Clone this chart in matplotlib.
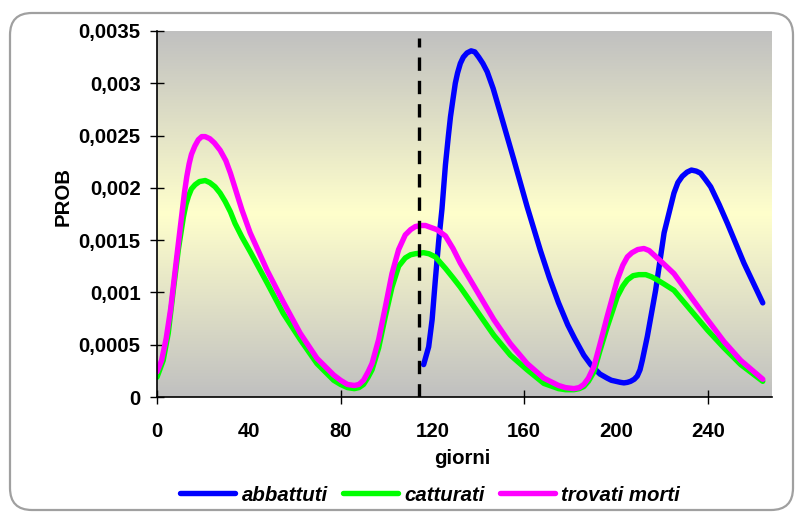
import numpy as np
import matplotlib
matplotlib.use("Agg")
import matplotlib.pyplot as plt
from matplotlib.patches import FancyBboxPatch
from matplotlib.transforms import IdentityTransform

plt.rcParams['font.family'] = ['Liberation Sans', 'DejaVu Sans']
plt.rcParams['font.weight'] = 'bold'

# abbattuti
giorni_abb = [116.2, 118.4, 119.9, 121.3, 122.8, 124.2, 125.7, 127, 127.9, 129,
              130, 131, 132.2, 133.5, 135.1, 136.9, 138.5, 140.2, 142, 143.9,
              146.5, 149.7, 155.5, 161.3, 167.1, 171, 175, 179, 182, 186,
              189, 193, 196.2, 198, 200, 202, 203.5, 205, 206.4, 208,
              209.3, 210.5, 211.5, 213.7, 217.3, 221, 225.3, 227, 228.9, 231,
              232.9, 235, 236.9, 239, 241.3, 245, 248.6, 255.8, 264]
prob_abb = [0.00031, 0.00048, 0.00074, 0.00112, 0.00150, 0.00180, 0.00222, 0.00250, 0.00268, 0.00285,
            0.00300, 0.00310, 0.00319, 0.00325, 0.00329, 0.00331, 0.00330, 0.00325, 0.00319, 0.00311,
            0.00295, 0.00271, 0.00227, 0.00182, 0.00140, 0.00114, 0.00090, 0.00069, 0.00056, 0.00040,
            0.00031, 0.00022, 0.00018, 0.00016, 0.00015, 0.00014, 0.000135, 0.00014, 0.00015, 0.00017,
            0.00020, 0.00026, 0.00035, 0.00058, 0.00102, 0.00157, 0.00195, 0.00205, 0.00211, 0.00215,
            0.00217, 0.00216, 0.00214, 0.00208, 0.00201, 0.00184, 0.00166, 0.00128, 0.00090]

# catturati
giorni_catt = [0, 2.7, 4.9, 7.1, 9.3, 11.5, 12.6, 13.7, 15, 16.6,
               18.5, 21, 23, 25.3, 27.5, 29.7, 32, 34, 37, 40.6,
               48, 55, 62.4, 69.7, 77, 80, 83, 86, 88, 90,
               92, 93.7, 96.6, 99.5, 102.4, 105.3, 108.2, 110.5, 112.6, 116.2,
               118.5, 121.3, 125.7, 129, 132.2, 139.5, 146.8, 154, 161.3, 168.6,
               175, 178, 181.7, 184, 186, 188, 190.4, 193, 196.2, 200.6,
               203, 205, 207.5, 210, 213, 215.5, 218, 221, 225.3, 232.6,
               239.9, 247.1, 254.4, 264]
prob_catt = [0.00019, 0.00035, 0.00061, 0.00102, 0.00141, 0.00172, 0.00184, 0.00192, 0.00199, 0.00203,
             0.00206, 0.00207, 0.00205, 0.00201, 0.00195, 0.00187, 0.00177, 0.00166, 0.00153, 0.00139,
             0.00109, 0.00080, 0.00055, 0.00032, 0.00016, 0.00012, 0.00009, 0.00008, 0.00009, 0.00012,
             0.00019, 0.00026, 0.00047, 0.00077, 0.00105, 0.00125, 0.00133, 0.00136, 0.00137, 0.00138,
             0.00137, 0.00134, 0.00123, 0.00114, 0.00105, 0.00082, 0.00059, 0.00040, 0.00026, 0.00013,
             0.00008, 0.00007, 0.00007, 0.00008, 0.00010, 0.00015, 0.00024, 0.00044, 0.00067, 0.00096,
             0.00106, 0.00112, 0.00116, 0.00117, 0.00117, 0.00115, 0.00112, 0.00108, 0.00102, 0.00083,
             0.00064, 0.00047, 0.00031, 0.00015]

# trovati morti
giorni_morti = [0, 2, 4, 6, 8.5, 11, 12, 13, 14, 15,
                16.5, 18, 19.5, 21, 23, 25, 27.5, 30, 32, 34,
                37, 40.6, 48, 55, 62.4, 69.7, 77, 80, 83, 86,
                88, 90, 92, 93.7, 96.6, 99.5, 102.4, 105.3, 108.2, 110.5,
                112.6, 115, 117, 119.5, 122, 125.7, 129, 132.2, 139.5, 146.8,
                154, 161.3, 168.6, 175, 178, 181.7, 184, 186, 188, 190.4,
                193, 196.2, 200.6, 203, 205, 207, 209.5, 212.2, 214.5, 216.5,
                220, 225.3, 232.6, 239.9, 247.1, 254.4, 264]
prob_morti = [0.00024, 0.00035, 0.00056, 0.00085, 0.00132, 0.00178, 0.00196, 0.00211, 0.00223, 0.00232,
              0.00240, 0.00246, 0.00249, 0.00249, 0.00247, 0.00243, 0.00236, 0.00226, 0.00214, 0.00200,
              0.00179, 0.00157, 0.00121, 0.00091, 0.00061, 0.00037, 0.00021, 0.00016, 0.00012, 0.00011,
              0.00012, 0.00016, 0.00024, 0.00032, 0.00055, 0.00086, 0.00118, 0.00141, 0.00155, 0.00160,
              0.00163, 0.00164, 0.00164, 0.00162, 0.00160, 0.00154, 0.00142, 0.00128, 0.00101, 0.00074,
              0.00051, 0.00032, 0.00018, 0.00011, 0.00009, 0.00008, 0.00009, 0.00012, 0.00018, 0.00029,
              0.00050, 0.00077, 0.00112, 0.00126, 0.00134, 0.00138, 0.00141, 0.00142, 0.00140, 0.00136,
              0.00129, 0.00118, 0.00096, 0.00074, 0.00053, 0.00035, 0.00017]

giorno_soglia = 114
x_ticks = [0, 40, 80, 120, 160, 200, 240]
y_ticks = [0, 0.0005, 0.001, 0.0015, 0.002, 0.0025, 0.003, 0.0035]
y_labels = ['0', '0,0005', '0,001', '0,0015', '0,002', '0,0025', '0,003', '0,0035']

fs = 14.7

fig = plt.figure(figsize=(7.95, 5.12), dpi=100)
fig.patch.set_facecolor('white')

# cornice arrotondata attorno al grafico
bordo = FancyBboxPatch((10, 2), 783, 497, boxstyle="round,pad=0,rounding_size=22",
                       transform=IdentityTransform(), facecolor='none',
                       edgecolor='#a0a0a0', linewidth=1.6)
fig.add_artist(bordo)

ax = fig.add_axes([0.1975, 0.2246, 0.7735, 0.7149])

# sfondo sfumato grigio - giallo - grigio
grigio = np.array([192, 192, 192]) / 255
giallo = np.array([255, 255, 204]) / 255
t = np.abs(np.linspace(-1, 1, 256))[:, None]
sfondo = (t * grigio + (1 - t) * giallo)[:, None, :]
ax.imshow(sfondo, extent=[0, 1, 0, 1], transform=ax.transAxes, aspect='auto', zorder=0)

stile = dict(lw=3.9, zorder=3, solid_capstyle='round', solid_joinstyle='round')
ax.plot(giorni_abb, prob_abb, color='#0000ff', label='abbattuti', **stile)
ax.plot(giorni_catt, prob_catt, color='#00ff00', label='catturati', **stile)
ax.plot(giorni_morti, prob_morti, color='#ff00ff', label='trovati morti', **stile)

ax.plot([giorno_soglia, giorno_soglia], [0, 0.00343], color='black', lw=2.4,
        linestyle=(0, (4, 3)), zorder=4)

ax.set_xlim(0, 268)
ax.set_ylim(0, 0.0035)

ax.set_xticks(x_ticks)
ax.set_xticklabels([str(v) for v in x_ticks])
ax.set_yticks(y_ticks)
ax.set_yticklabels(y_labels)
ax.tick_params(axis='both', direction='inout', length=9.5, width=1, colors='black',
               labelsize=fs)
ax.tick_params(axis='x', pad=13)
ax.tick_params(axis='y', pad=7)
# segni di graduazione solo ogni 80 giorni
for pos, tick in zip(x_ticks, ax.xaxis.get_major_ticks()):
    if pos % 80 != 0:
        tick.tick1line.set_visible(False)

for s in ['top', 'right']:
    ax.spines[s].set_visible(False)
for s in ['left', 'bottom']:
    ax.spines[s].set_linewidth(1.2)
    ax.spines[s].set_zorder(5)

ax.set_xlabel('giorni', fontsize=fs, fontweight='bold')
ax.set_ylabel('PROB', fontsize=fs, fontweight='bold')
ax.xaxis.set_label_coords(0.496, -0.142)
ax.yaxis.set_label_coords(-0.138, 0.549)

fig.legend(loc='center', bbox_to_anchor=(0.541, 0.033), ncol=3, frameon=False,
           prop={'size': fs, 'weight': 'bold', 'style': 'italic'},
           handlelength=2.7, handletextpad=0.3, columnspacing=0.75)

fig.savefig('out.png', dpi=100)
